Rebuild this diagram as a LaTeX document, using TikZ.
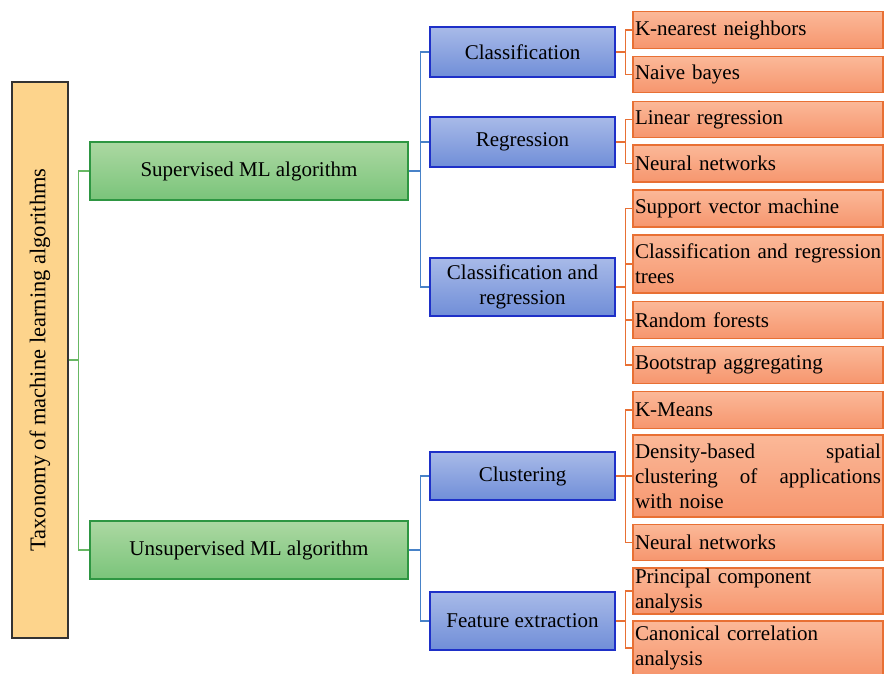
\documentclass[tikz,border=0pt]{standalone}
\usepackage{fontspec}
\setmainfont{Liberation Serif}
\usepackage{tikz}
\usetikzlibrary{calc}
\definecolor{rootfill}{RGB}{253,212,140}
\definecolor{grntop}{RGB}{172,216,162}
\definecolor{grnbot}{RGB}{122,196,122}
\definecolor{grnline}{RGB}{46,150,66}
\definecolor{blutop}{RGB}{168,186,232}
\definecolor{blubot}{RGB}{112,142,216}
\definecolor{bluline}{RGB}{30,48,200}
\definecolor{blulink}{RGB}{72,130,200}
\definecolor{orgtop}{RGB}{251,184,152}
\definecolor{orgbot}{RGB}{246,150,110}
\definecolor{orgline}{RGB}{232,112,52}
\definecolor{grnlink}{RGB}{104,184,100}
\tikzset{
  txt/.style={font=\fontsize{21}{25}\selectfont},
  rootbox/.style={draw=black!80,line width=1.6pt,fill=rootfill,
                  minimum width=56pt,minimum height=556pt,inner sep=0pt},
  grp/.style={txt,draw=grnline,line width=1.5pt,top color=grntop,bottom color=grnbot,
              minimum width=318pt,minimum height=58pt,inner sep=0pt},
  sub/.style={txt,draw=bluline,line width=1.5pt,top color=blutop,bottom color=blubot,
              minimum width=185pt,inner sep=0pt,align=center},
  leaf/.style={txt,draw=orgline,line width=1.5pt,top color=orgtop,bottom color=orgbot,
               text width=246pt,inner xsep=2pt,inner ysep=0pt,align=left},
  gl/.style={grnlink,line width=1.2pt},
  bl/.style={blulink,line width=1.2pt},
  ol/.style={orgline,line width=1.2pt},
}

\begin{document}
\begin{tikzpicture}[x=1pt, y=-1pt]
  \useasboundingbox (0,0) rectangle (885,673);
  % root
  \node[rootbox] (root) at (40,360) {};
  \node[font=\fontsize{22.5}{26}\selectfont,rotate=90] at (root.center)
    {Taxonomy of machine learning algorithms};
  % second level
  \node[grp] (sup) at (249,171) {Supervised ML algorithm};
  \node[grp] (uns) at (249,550) {Unsupervised ML algorithm};
  % third level
  \node[sub,minimum height=50pt] (cls) at (522.5,52) {Classification};
  \node[sub,minimum height=50pt] (reg) at (522.5,142) {Regression};
  \node[sub,minimum height=58pt] (clr) at (522.5,287) {Classification and\\regression};
  \node[sub,minimum height=48pt] (clu) at (522.5,476) {Clustering};
  \node[sub,minimum height=58pt] (fex) at (522.5,621) {Feature extraction};
  % leaves
  \node[leaf,minimum height=37pt] (knn) at (758,30) {K-nearest neighbors};
  \node[leaf,minimum height=36pt] (nb)  at (758,74.5) {Naive bayes};
  \node[leaf,minimum height=36pt] (lin) at (758,119.5) {Linear regression};
  \node[leaf,minimum height=37pt] (nn)  at (758,163.5) {Neural networks};
  \node[leaf,minimum height=37pt] (svm) at (758,208.5) {Support vector machine};
  \node[leaf,minimum height=58pt] (cart) at (758,264)
    {\mbox{Classification and regression}\\trees};
  \node[leaf,minimum height=37pt] (rf)  at (758,320) {Random forests};
  \node[leaf,minimum height=37pt] (bag) at (758,365) {Bootstrap aggregating};
  \node[leaf,minimum height=37pt] (km)  at (758,410) {K-Means};
  \node[leaf,minimum height=82pt] (dbs) at (758,476)
    {Density-based\hfill spatial\\clustering\hfill of\hfill applications\\with noise};
  \node[leaf,minimum height=36pt] (nn2) at (758,542.5) {Neural networks};
  \node[leaf,minimum height=46pt] (pca) at (758,591) {Principal component\\analysis};
  \node[leaf,minimum height=54pt] (cca) at (758,648) {Canonical correlation\\analysis};
  % links
  \foreach \c in {sup,uns}
    \draw[gl] (root.east) -- ++(10,0) |- (\c.west);
  \foreach \c in {cls,reg,clr}
    \draw[bl] (sup.east) -- ++(12,0) |- (\c.west);
  \foreach \c in {clu,fex}
    \draw[bl] (uns.east) -- ++(12,0) |- (\c.west);
  \foreach \c in {knn,nb}
    \draw[ol] (cls.east) -- ++(10,0) |- (\c.west);
  \foreach \c in {lin,nn}
    \draw[ol] (reg.east) -- ++(10,0) |- (\c.west);
  \foreach \c in {svm,cart,rf,bag}
    \draw[ol] (clr.east) -- ++(10,0) |- (\c.west);
  \foreach \c in {km,dbs,nn2}
    \draw[ol] (clu.east) -- ++(10,0) |- (\c.west);
  \foreach \c in {pca,cca}
    \draw[ol] (fex.east) -- ++(10,0) |- (\c.west);
\end{tikzpicture}
\end{document}
